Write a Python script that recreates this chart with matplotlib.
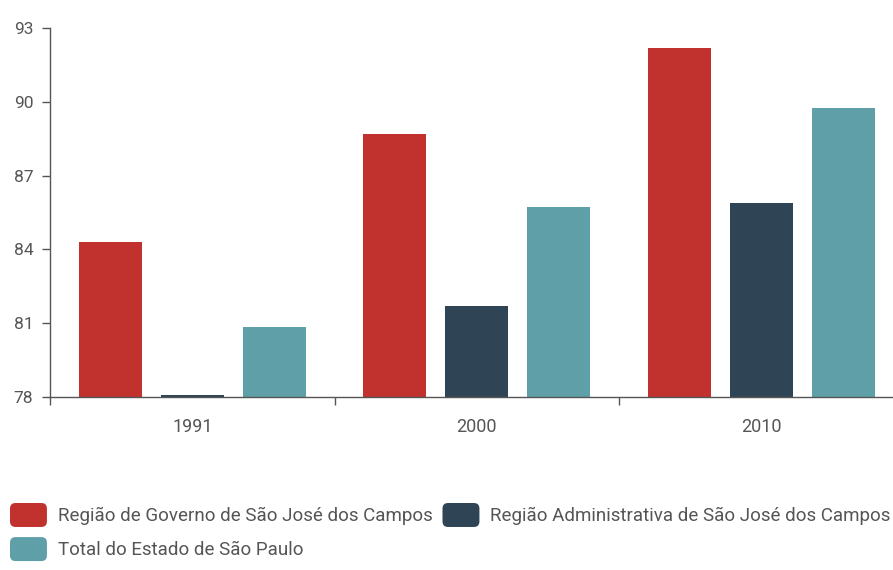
import matplotlib
matplotlib.use("Agg")
import matplotlib.pyplot as plt
import numpy as np
from matplotlib.patches import FancyBboxPatch
from matplotlib.legend_handler import HandlerPatch
import matplotlib.patches as mpatches

years = ["1991", "2000", "2010"]
series_names = [
    "Região de Governo de São José dos Campos",
    "Região Administrativa de São José dos Campos",
    "Total do Estado de São Paulo",
]
governo = [84.3, 88.7, 92.2]
administrativa = [78.1, 81.7, 85.9]
estado = [80.85, 85.72, 89.74]
colors = ["#C1322F", "#2F4455", "#5E9FA8"]
yticks = [78, 81, 84, 87, 90, 93]

plt.rcParams['font.family'] = ['Roboto', 'DejaVu Sans']
TEXT = "#555555"

W, H = 893, 570
fig = plt.figure(figsize=(W / 100, H / 100), dpi=100)
ax = fig.add_axes([50 / W, (H - 397) / H, 853.5 / W, 369 / H])

x = np.arange(len(years))
width = 0.221
offset = 0.288
for i, (vals, c, name) in enumerate(zip([governo, administrativa, estado], colors, series_names)):
    ax.bar(x + (i - 1) * offset, np.array(vals) - 78, width, bottom=78, color=c, label=name)

ax.set_xlim(-0.5, 2.5)
ax.set_ylim(78, 93)
ax.set_yticks(yticks)
ax.set_xticks(x)
ax.set_xticklabels(years)
ax.set_xticks([-0.5, 0.5, 1.5, 2.5], minor=True)

for s in ["top", "right"]:
    ax.spines[s].set_visible(False)
for s in ["left", "bottom"]:
    ax.spines[s].set_color(TEXT)
    ax.spines[s].set_linewidth(1.0)

ax.tick_params(axis="y", length=6, width=1, color=TEXT, labelcolor=TEXT, labelsize=12.5, pad=6)
ax.tick_params(axis="x", which="major", length=0, labelcolor=TEXT, labelsize=13, pad=15)
ax.tick_params(axis="x", which="minor", length=6, width=1, color=TEXT)


class HandlerRound(HandlerPatch):
    def create_artists(self, legend, orig_handle, xdescent, ydescent, width, height, fontsize, trans):
        p = FancyBboxPatch((-xdescent, -ydescent), width, height,
                           boxstyle="round,pad=0,rounding_size=4",
                           facecolor=orig_handle.get_facecolor(), edgecolor="none",
                           transform=trans)
        return [p]


handles = [mpatches.Patch(facecolor=c) for c in colors]
order = [0, 2, 1]
leg = fig.legend([handles[i] for i in order], [series_names[i] for i in order],
                 loc="upper left", bbox_to_anchor=(10 / W, 1 - 503 / H),
                 ncol=2, frameon=False, fontsize=13.5, borderpad=0, borderaxespad=0,
                 handlelength=1.97, handleheight=1.59, handletextpad=0.58,
                 columnspacing=0.53, labelspacing=0.54,
                 handler_map={mpatches.Patch: HandlerRound()})
for t in leg.get_texts():
    t.set_color(TEXT)

fig.savefig("out.png", dpi=100)
